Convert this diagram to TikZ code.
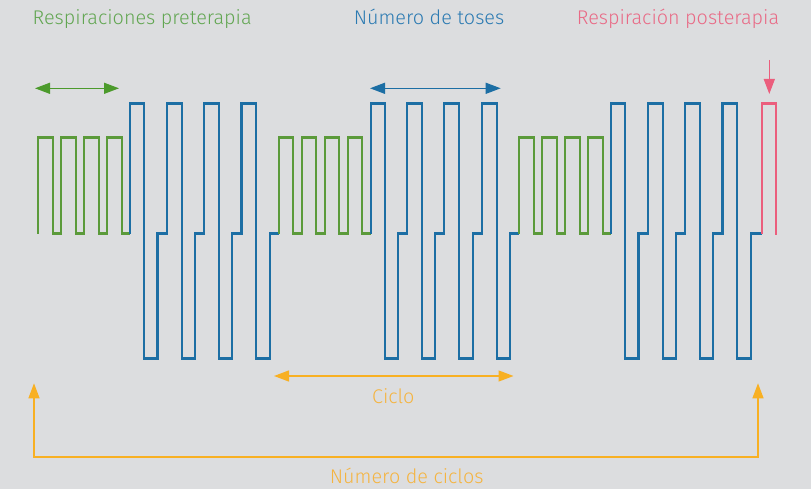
\documentclass[tikz,border=0pt]{standalone}
\usepackage{fontspec}
\setmainfont{Fira Sans Light}
\usetikzlibrary{arrows.meta}
\definecolor{bg}{HTML}{DCDDDF}
\definecolor{wgreen}{HTML}{5B9A3A}
\definecolor{agreen}{HTML}{4C9A2C}
\definecolor{tgreen}{HTML}{62A652}
\definecolor{wblue}{HTML}{1C6EA4}
\definecolor{tblue}{HTML}{2B7AB2}
\definecolor{wpink}{HTML}{EB5E7D}
\definecolor{tpink}{HTML}{E96A86}
\definecolor{worange}{HTML}{F8B023}
\definecolor{torange}{HTML}{F5B440}
\tikzset{
  wave/.style={line width=2.1pt, line join=miter},
  lbl/.style={font=\fontsize{19.8}{23}\selectfont, inner sep=0pt, anchor=base},
  dblarrow/.style={line width=1.3pt, {Triangle[length=15pt,width=11pt]}-{Triangle[length=15pt,width=11pt]}},
  pics/greenpart/.style={code={
    \draw[wave, wgreen] (0,233.5) -- (0,137.5) -- (14.5,137.5) -- (14.5,233.5) -- (23,233.5)
      -- (23,137.5) -- (37.5,137.5) -- (37.5,233.5) -- (46,233.5)
      -- (46,137.5) -- (60.5,137.5) -- (60.5,233.5) -- (69,233.5)
      -- (69,137.5) -- (83.5,137.5) -- (83.5,233.5) -- (92,233.5);
  }},
  pics/bluepart/.style={code={
    \draw[wave, wblue] (92,233.5) -- (92,103.5) -- (106,103.5) -- (106,358.5) -- (119.2,358.5)
      -- (119.2,233.5) -- (128.4,233.5) -- (128.4,103.5) -- (143.3,103.5) -- (143.3,358.5) -- (156.4,358.5)
      -- (156.4,233.5) -- (165.6,233.5) -- (165.6,103.5) -- (180.4,103.5) -- (180.4,358.5) -- (194,358.5)
      -- (194,233.5) -- (203.2,233.5) -- (203.2,103.5) -- (217.8,103.5) -- (217.8,358.5) -- (231.5,358.5)
      -- (231.5,233.5) -- (240.5,233.5);
  }}
}
\begin{document}
\begin{tikzpicture}[x=1pt,y=-1pt]
\useasboundingbox (0,0) rectangle (811,489);
\fill[bg] (0,0) rectangle (811,489);

% waveform: three cycles and the post-therapy breath
\foreach \s in {38.3,278.8,519.3}{
  \pic at (\s,0) {greenpart};
  \pic at (\s,0) {bluepart};
}
\draw[wave, wblue] (759.6,233.5) -- (761.7,233.5);
\draw[wave, wpink] (761.7,233.5) -- (761.7,103.5) -- (776.3,103.5) -- (776.3,234.5);

% labels
\node[lbl, text=tgreen] (pre) at (142.2,24.5) {Respiraciones preterapia};
\node[lbl, text=tblue] (tos) at (429,24.5) {Número de toses};
\node[lbl, text=tpink] (post) at (678,24.5) {Respiración posterapia};
\node[lbl, text=torange] (ciclo) at (393.3,403.3) {Ciclo};
\node[lbl, text=torange] (nciclos) at (406.7,483.3) {Número de ciclos};

% arrows
\coordinate (g1) at (35,88.3);
\coordinate (g2) at (119,88.3);
\coordinate (b1) at (370,88.3);
\coordinate (b2) at (500.7,88.3);
\coordinate (p1) at (769.3,60);
\coordinate (p2) at (769.3,94);
\coordinate (c1) at (274,376);
\coordinate (c2) at (513.5,376);
\coordinate (nL) at (34,383.3);
\coordinate (nLb) at (34,457);
\coordinate (nRb) at (758,457);
\coordinate (nR) at (758,383.3);

\draw[dblarrow, agreen] (g1) -- (g2);
\draw[dblarrow, wblue] (b1) -- (b2);
\draw[line width=1.3pt, wpink, -{Triangle[length=15pt,width=11pt]}] (p1) -- (p2);
\draw[dblarrow, worange] (c1) -- (c2);
\draw[line width=1.3pt, worange, {Triangle[length=15pt,width=11pt]}-{Triangle[length=15pt,width=11pt]}] (nL) -- (nLb) -- (nRb) -- (nR);
\end{tikzpicture}
\end{document}
